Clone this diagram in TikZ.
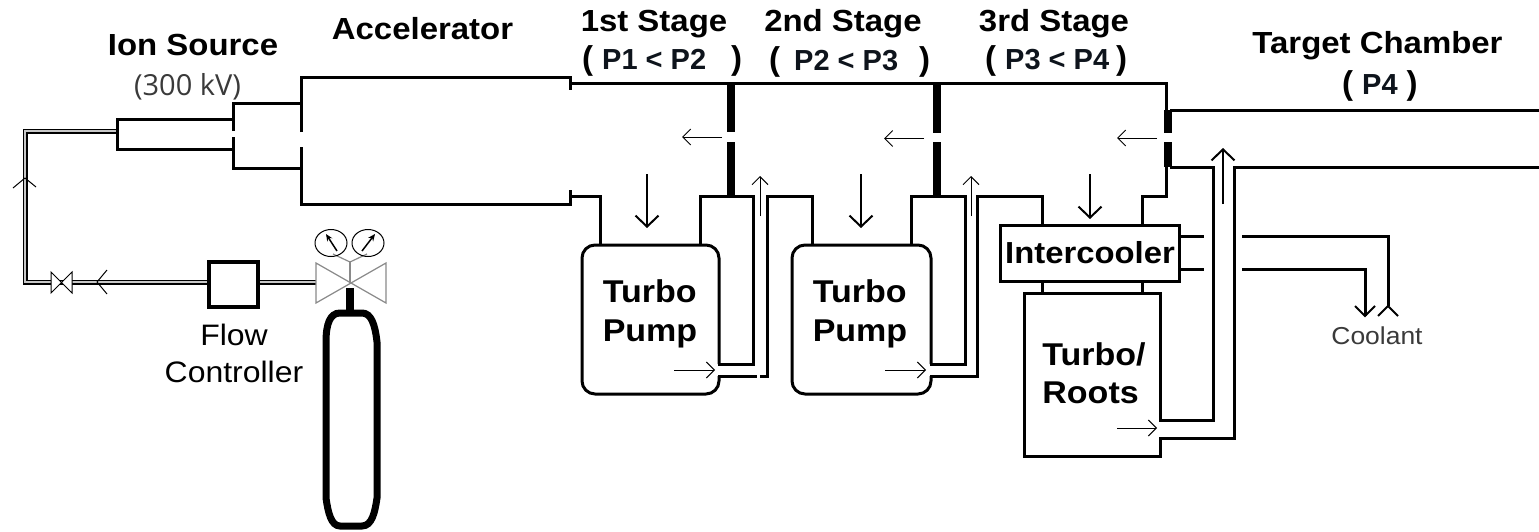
\documentclass[tikz,border=0pt]{standalone}
\usepackage{fontspec}
\setmainfont{Liberation Sans}[FakeStretch=1.08]
\newfontfamily\labelfont{Open Sans}
\newfontfamily\pfont{Liberation Sans}
\usetikzlibrary{arrows.meta}
\definecolor{pcol}{HTML}{0E141C}
\definecolor{kvcol}{HTML}{3A3A3A}
\definecolor{valvecol}{HTML}{8A8A8A}
\definecolor{gasmid}{HTML}{C8C8C8}
\newcommand{\bigp}[1]{{\fontsize{33}{33}\selectfont\color{black}#1}}
\tikzset{
  pipe/.style={draw=black,line width=3pt,line cap=butt,line join=miter},
  wall/.style={draw=black,line width=8pt},
  thinflow/.style={draw=black,line width=1pt,-{Straight Barb[length=8pt,width=16pt,line width=1pt]}},
  midflow/.style={draw=black,line width=2pt,-{Straight Barb[length=11pt,width=23pt,line width=2pt]}},
  gasout/.style={draw=black,line width=5pt},
  gasin/.style={draw=gasmid,line width=2pt},
  title/.style={font=\fontsize{30.5}{34}\selectfont\bfseries,inner sep=0pt,text=black},
  plabel/.style={font=\pfont\fontsize{29}{32}\selectfont\bfseries,inner sep=0pt,text=pcol},
  unit/.style={font=\fontsize{31.5}{38.5}\selectfont\bfseries,inner sep=0pt,align=left,text=black},
  plain/.style={font=\fontsize{29.6}{37}\selectfont,inner sep=0pt,align=center,text=black},
  valve/.style={draw=valvecol,line width=1.2pt},
}
\begin{document}
\begin{tikzpicture}[x=1pt,y=-1pt]
\useasboundingbox (0,0) rectangle (1539,531);
% gas line
\path[gasout,line join=miter] (117,131) -- (25,131) -- (25,282) -- (316,282);
\path[gasin,line join=miter] (117,131) -- (25,131) -- (25,282) -- (316,282);
% ion source and accelerator
\draw[pipe] (233,119) -- (117,119) -- (117,149) -- (233,149);
\draw[pipe] (233,131) -- (233,103) -- (301,103);
\draw[pipe] (233,137) -- (233,168) -- (301,168);
\draw[pipe] (301,132) -- (301,77) -- (570,77) -- (570,90);
\draw[pipe] (301,147) -- (301,204) -- (570,204) -- (570,190);
% main duct
\draw[pipe] (570,83.5) -- (1166,83.5) -- (1166,110);
\draw[pipe] (570,196) -- (600,196) -- (600,245);
\draw[pipe] (1166,167) -- (1166,196) -- (1142,196) -- (1142,225);
% stage walls
\draw[wall] (731,83) -- (731,132);
\draw[wall] (731,142) -- (731,196);
\draw[wall] (937,83) -- (937,133);
\draw[wall] (937,142) -- (937,196);
\draw[wall] (1168,110) -- (1168,133);
\draw[wall] (1168,142) -- (1168,167);
% pump 1
\draw[pipe,rounded corners=13pt] (719,364) -- (719,245) -- (582,245) -- (582,394) -- (719,394) -- (719,376);
\draw[pipe] (700,245) -- (700,196) -- (753,196) -- (753,364) -- (718,364);
\draw[pipe] (718,376) -- (757,376);
\draw[pipe] (760,376) -- (767,376) -- (767,196) -- (812,196) -- (812,245);
% pump 2
\draw[pipe,rounded corners=13pt] (931,364) -- (931,245) -- (792,245) -- (792,394) -- (931,394) -- (931,376);
\draw[pipe] (911,245) -- (911,196) -- (965,196) -- (965,364) -- (930,364);
\draw[pipe] (930,376) -- (977,376) -- (977,196) -- (1042,196) -- (1042,225);
% intercooler and turbo/roots
\draw[pipe] (1000,225) rectangle (1179,281);
\draw[pipe] (1042,281) -- (1042,293);
\draw[pipe] (1142,281) -- (1142,293);
\draw[pipe] (1160,420) -- (1160,293) -- (1024,293) -- (1024,456) -- (1160,456) -- (1160,438);
\draw[pipe] (1159,420) -- (1213,420) -- (1213,167) -- (1170,167);
\draw[pipe] (1159,438) -- (1234,438) -- (1234,167) -- (1539,167);
\draw[pipe] (1170,110.5) -- (1539,110.5);
% coolant
\draw[pipe] (1179,236) -- (1204,236);
\draw[pipe] (1179,269) -- (1204,269);
\draw[pipe] (1242,236) -- (1388,236) -- (1388,306);
\draw[pipe] (1242,269) -- (1365,269) -- (1365,316);
\draw[draw=black,line width=2pt] (1355,306) -- (1365,316) -- (1375,306);
\draw[draw=black,line width=2pt] (1378,316) -- (1388,306) -- (1398,316);
% flow arrows
\draw[thinflow] (722,137) -- (682,137);
\draw[thinflow] (924,138.5) -- (884,138.5);
\draw[thinflow] (1157,138) -- (1117,138);
\draw[midflow] (647,174) -- (647,228);
\draw[midflow] (861,174) -- (861,228);
\draw[midflow] (1090,174) -- (1090,219);
\draw[thinflow] (760,216) -- (760,176);
\draw[thinflow] (971,216) -- (971,176);
\draw[midflow] (1223,204) -- (1223,148);
\draw[thinflow] (674,370) -- (715,370);
\draw[thinflow] (885,370) -- (926,370);
\draw[thinflow] (1117,428) -- (1157,428);
\draw[thinflow,-] (25,178) -- (13,188);
\draw[thinflow,-] (25,178) -- (36,187);
\draw[thinflow,-] (97,282) -- (107,270);
\draw[thinflow,-] (97,282) -- (107,294);
% isolation valve
\draw[draw=black,line width=1pt,fill=white] (51,272) -- (72,293) -- (72,272) -- (51,293) -- cycle;
% flow controller
\draw[draw=black,line width=4.5pt,fill=white] (209,262) rectangle (258,307);
% regulator
\draw[valve,fill=white] (316,263) -- (386,303) -- (386,263) -- (316,303) -- cycle;
\draw[valve] (350,283) -- (350,262);
\draw[valve] (333,254) -- (350,262) -- (367,254);
\draw[draw=black,line width=1pt] (331,243) ellipse (16pt and 13.5pt);
\draw[draw=black,line width=1pt] (368,243) ellipse (16pt and 13.5pt);
\draw[line width=1.5pt,-{Stealth[length=7pt,width=6pt]}] (337,251) -- (326,234);
\draw[line width=1.5pt,-{Stealth[length=7pt,width=6pt]}] (362,251) -- (375,234);
% cylinder
\draw[draw=black,line width=8pt] (350,288) -- (350,313);
\draw[draw=black,line width=7pt,fill=white]
  (340,313) -- (362,313) .. controls (371,313) and (375,324) .. (377,342)
  -- (377,498) .. controls (375,512) and (372,526) .. (362,526)
  -- (340,526) .. controls (331,526) and (328,512) .. (326,498)
  -- (326,342) .. controls (326,324) and (330,313) .. (340,313) -- cycle;
% labels
\node[title] (ion) at (193,45) {Ion Source};
\node[font=\labelfont\fontsize{29}{32}\selectfont,inner sep=0pt,text=kvcol] (kv) at (187.5,87) {(300 kV)};
\node[title] (acc) at (422.5,29) {Accelerator};
\node[title] (s1) at (654,24) {1st Stage};
\node[title] (s2) at (843,24) {2nd Stage};
\node[title] (s3) at (1054,24) {3rd Stage};
\node[title] (tc) at (1377.5,46) {Target Chamber};
\node[plabel,anchor=west] (p1) at (582,61) {\bigp{(}\hspace{9pt}P1 < P2\hspace{25pt}\bigp{)}};
\node[plabel,anchor=west] (p2) at (769,62) {\bigp{(}\hspace{14pt}P2 < P3\hspace{21pt}\bigp{)}};
\node[plabel,anchor=west] (p3) at (985,61) {\bigp{(}\hspace{9pt}P3 < P4\hspace{7pt}\bigp{)}};
\node[plabel,anchor=west] (p4) at (1342,86) {\bigp{(}\hspace{9pt}P4\hspace{9pt}\bigp{)}};
\node[unit] (tp1) at (650,314) {Turbo\\Pump};
\node[unit] (tp2) at (860,314) {Turbo\\Pump};
\node[unit] (tr) at (1094,373) {Turbo/\\Roots};
\node[font=\fontsize{30.4}{34}\selectfont\bfseries,inner sep=0pt] (ic) at (1090,253) {Intercooler};
\node[plain] (fc) at (234,353) {Flow\\Controller};
\node[font=\fontsize{24.5}{28}\selectfont,inner sep=0pt,text=kvcol] (cool) at (1377,336) {Coolant};
\end{tikzpicture}
\end{document}
